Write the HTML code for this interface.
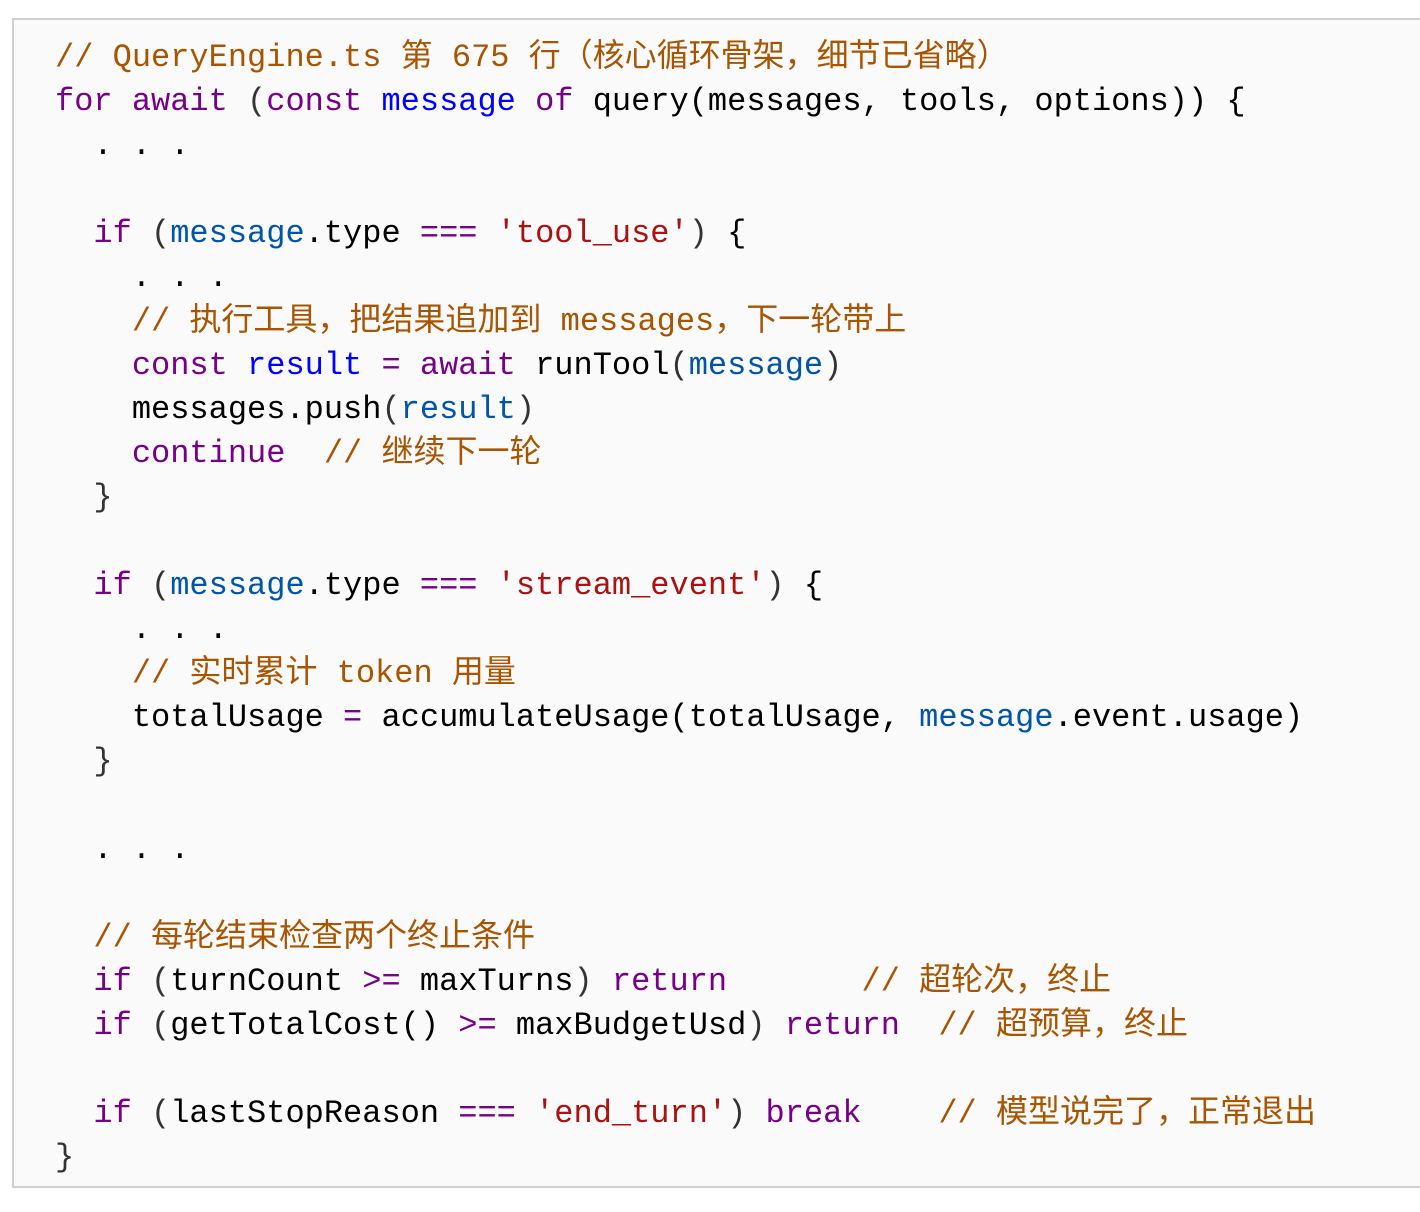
<!DOCTYPE html>
<html><head><meta charset="utf-8"><style>
body{margin:0;width:1420px;height:1212px;background:#fff;position:relative;overflow:hidden}
.box{position:absolute;left:12px;top:18px;width:1420px;height:1170px;border:2px solid #cfcfcf;background:#fafafa;box-sizing:border-box}
pre{position:absolute;left:55px;top:36px;margin:0;font-family:"Liberation Mono","Noto Sans CJK SC",monospace;font-size:32px;line-height:44px;color:#000}
.c{color:#a85400}.k{color:#770088}.d{color:#0000ff}.v{color:#0055aa}.s{color:#aa1111}.p{color:#333}
</style></head><body><div class="box"></div>
<pre><span class="c">// QueryEngine.ts 第 675 行（核心循环骨架，细节已省略）</span>
<span class="k">for</span> <span class="k">await</span> <span class="p">(</span><span class="k">const</span> <span class="d">message</span> <span class="k">of</span> query(messages, tools, options)) {
  . . .

  <span class="k">if</span> <span class="p">(</span><span class="v">message</span>.type <span class="k">===</span> <span class="s">'tool_use'</span><span class="p">)</span> {
    . . .
    <span class="c">// 执行工具，把结果追加到 messages，下一轮带上</span>
    <span class="k">const</span> <span class="d">result</span> <span class="k">=</span> <span class="k">await</span> runTool<span class="p">(</span><span class="v">message</span><span class="p">)</span>
    messages.push<span class="p">(</span><span class="v">result</span><span class="p">)</span>
    <span class="k">continue</span>  <span class="c">// 继续下一轮</span>
  <span class="p">}</span>

  <span class="k">if</span> <span class="p">(</span><span class="v">message</span>.type <span class="k">===</span> <span class="s">'stream_event'</span><span class="p">)</span> {
    . . .
    <span class="c">// 实时累计 token 用量</span>
    totalUsage <span class="k">=</span> accumulateUsage(totalUsage, <span class="v">message</span>.event.usage)
  <span class="p">}</span>

  . . .

  <span class="c">// 每轮结束检查两个终止条件</span>
  <span class="k">if</span> <span class="p">(</span>turnCount <span class="k">&gt;=</span> maxTurns<span class="p">)</span> <span class="k">return</span>       <span class="c">// 超轮次，终止</span>
  <span class="k">if</span> <span class="p">(</span>getTotalCost() <span class="k">&gt;=</span> maxBudgetUsd<span class="p">)</span> <span class="k">return</span>  <span class="c">// 超预算，终止</span>

  <span class="k">if</span> <span class="p">(</span>lastStopReason <span class="k">===</span> <span class="s">'end_turn'</span><span class="p">)</span> <span class="k">break</span>    <span class="c">// 模型说完了，正常退出</span>
<span class="p">}</span></pre>
</body></html>
